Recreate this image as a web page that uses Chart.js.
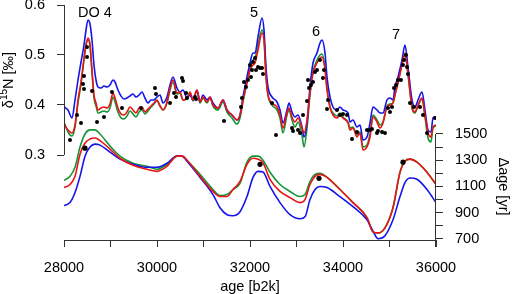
<!DOCTYPE html>
<html>
<head>
<meta charset="utf-8">
<script src="https://cdn.jsdelivr.net/npm/chart.js@4.4.0/dist/chart.umd.min.js"></script>
<style>
html,body{margin:0;padding:0;background:#fff;}
#wrap{width:521px;height:294px;}
</style>
</head>
<body>
<div id="wrap"><canvas id="c" width="521" height="294"></canvas></div>
<script>
// ---- upper panel: delta15N [permil] ----
const n15Ages = [28000,28086,28172,28237,28301,28366,28430,28473,28516,28559,28602,28645,28688,28731,28796,28860,28925,28989,29054,29097,29161,29226,29290,29355,29419,29484,29548,29613,29677,29742,29806,29871,29935,30000,30065,30129,30215,30280,30344,30430,30495,30559,30645,30710,30774,30860,30925,30989,31075,31140,31204,31312,31419,31505,31613,31720,31785,31849,31935,32000,32065,32108,32172,32258,32301,32344,32387,32473,32581,32645,32710,32796,32839,32903,32968,33032,33118,33161,33226,33290,33355,33441,33505,33548,33613,33656,33720,33785,33871,33935,34000,34108,34151,34215,34301,34366,34430,34516,34581,34645,34731,34796,34860,34946,35011,35075,35118,35183,35269,35333,35398,35484,35548,35613,35699,35763,35828,35892,35935,36000];
const n15Blue = [0.396,0.390,0.374,0.410,0.450,0.486,0.520,0.550,0.570,0.562,0.530,0.480,0.450,0.436,0.434,0.438,0.436,0.440,0.450,0.446,0.430,0.418,0.412,0.414,0.418,0.422,0.416,0.420,0.426,0.414,0.404,0.410,0.410,0.416,0.420,0.404,0.416,0.440,0.456,0.434,0.426,0.430,0.414,0.420,0.410,0.430,0.406,0.420,0.410,0.416,0.404,0.394,0.410,0.390,0.380,0.370,0.380,0.416,0.456,0.484,0.504,0.504,0.536,0.574,0.550,0.476,0.436,0.416,0.406,0.390,0.364,0.390,0.404,0.386,0.376,0.380,0.356,0.336,0.364,0.436,0.484,0.504,0.524,0.530,0.504,0.456,0.416,0.396,0.390,0.396,0.390,0.384,0.366,0.370,0.356,0.360,0.330,0.336,0.364,0.396,0.390,0.384,0.384,0.410,0.414,0.410,0.436,0.456,0.490,0.520,0.476,0.410,0.396,0.410,0.426,0.390,0.350,0.346,0.374,0.376];
const n15Red = [0.362,0.350,0.344,0.360,0.410,0.446,0.494,0.520,0.534,0.522,0.470,0.420,0.404,0.390,0.394,0.396,0.394,0.402,0.424,0.414,0.394,0.382,0.380,0.386,0.396,0.390,0.384,0.394,0.396,0.386,0.392,0.398,0.404,0.410,0.398,0.390,0.406,0.434,0.450,0.424,0.426,0.410,0.414,0.426,0.410,0.430,0.406,0.416,0.406,0.416,0.400,0.394,0.410,0.390,0.380,0.370,0.380,0.410,0.444,0.470,0.480,0.484,0.510,0.544,0.530,0.456,0.420,0.404,0.396,0.380,0.354,0.384,0.394,0.376,0.366,0.374,0.354,0.344,0.370,0.424,0.464,0.484,0.494,0.496,0.470,0.430,0.396,0.380,0.374,0.380,0.374,0.364,0.350,0.354,0.336,0.344,0.310,0.316,0.336,0.376,0.366,0.354,0.364,0.396,0.400,0.404,0.420,0.444,0.480,0.504,0.464,0.396,0.386,0.400,0.414,0.380,0.344,0.336,0.356,0.360];
const n15Green = [0.366,0.346,0.338,0.356,0.404,0.442,0.490,0.520,0.530,0.518,0.466,0.414,0.398,0.384,0.386,0.388,0.386,0.394,0.416,0.406,0.386,0.374,0.372,0.378,0.388,0.382,0.376,0.386,0.390,0.382,0.388,0.396,0.402,0.408,0.398,0.390,0.404,0.430,0.446,0.422,0.424,0.410,0.412,0.424,0.408,0.428,0.404,0.414,0.404,0.414,0.398,0.390,0.406,0.386,0.374,0.362,0.374,0.406,0.446,0.474,0.490,0.494,0.520,0.550,0.534,0.460,0.420,0.400,0.390,0.374,0.344,0.380,0.390,0.370,0.356,0.366,0.340,0.316,0.354,0.420,0.466,0.490,0.500,0.502,0.476,0.434,0.396,0.384,0.378,0.384,0.376,0.366,0.354,0.356,0.340,0.346,0.316,0.320,0.342,0.380,0.370,0.360,0.366,0.398,0.402,0.404,0.422,0.446,0.482,0.500,0.460,0.394,0.384,0.398,0.412,0.376,0.334,0.326,0.354,0.358];
const n15DotAges = [28129,28280,28366,28409,28430,28430,28495,28495,28602,28710,28860,29032,29247,29656,29957,29978,30280,30366,30409,30538,30559,30624,30645,30817,30839,31441,31806,31828,31871,31914,31957,32000,32022,32043,32065,32108,32129,32172,32215,32258,32280,32473,32559,32903,32925,33032,33075,33140,33226,33247,33269,33312,33355,33398,33441,33505,33570,33591,33656,33677,33871,33935,34000,34086,34194,34301,34516,34581,34624,34731,34753,34839,34903,34968,35011,35054,35097,35140,35183,35247,35290,35312,35355,35376,35398,35441,35527,35656,35720,35806,35978];
const n15DotVals = [0.330,0.380,0.364,0.442,0.458,0.432,0.496,0.516,0.428,0.366,0.376,0.426,0.394,0.394,0.434,0.422,0.404,0.424,0.416,0.454,0.448,0.424,0.414,0.416,0.412,0.368,0.396,0.414,0.446,0.436,0.450,0.480,0.456,0.470,0.486,0.494,0.470,0.476,0.474,0.474,0.462,0.404,0.340,0.354,0.348,0.350,0.344,0.380,0.408,0.450,0.434,0.440,0.446,0.466,0.470,0.490,0.454,0.470,0.392,0.410,0.390,0.380,0.382,0.380,0.332,0.346,0.350,0.350,0.352,0.344,0.348,0.346,0.344,0.394,0.386,0.396,0.434,0.440,0.450,0.450,0.480,0.490,0.500,0.476,0.462,0.404,0.396,0.396,0.380,0.344,0.374];

// ---- lower panel: delta age [yr] ----
const dageAges = [28000,28129,28237,28344,28452,28559,28667,28774,28989,29204,29484,29785,30000,30215,30430,30538,30645,30925,31204,31355,31505,31634,31785,31935,32065,32172,32280,32430,32645,32860,33075,33183,33290,33398,33505,33656,33935,34215,34516,34645,34753,34903,35075,35226,35333,35441,35591,35806,36000];
const dageBlue = [954,977,1054,1177,1331,1400,1423,1415,1362,1308,1269,1246,1246,1277,1331,1331,1292,1169,1038,938,885,877,908,1023,1169,1215,1210,1100,977,885,854,869,1000,1077,1100,1092,1023,946,846,760,702,725,846,1023,1130,1165,1155,1077,977];
const dageRed = [1092,1115,1177,1346,1431,1462,1469,1450,1385,1315,1262,1231,1215,1254,1331,1331,1300,1177,1062,1023,1023,1077,1138,1269,1315,1308,1280,1154,1062,1015,977,1000,1115,1177,1192,1169,1077,977,862,754,746,785,938,1208,1292,1308,1285,1208,1115];
const dageGreen = [1146,1177,1246,1400,1500,1531,1531,1500,1408,1331,1277,1254,1231,1269,1331,1331,1300,1192,1077,1031,1038,1077,1123,1285,1331,1331,1300,1208,1115,1062,1023,1038,1138,1192,1200,1169,1077,977,862,754,746,785,938,1208,1292,1308,1285,1208,1115];
const dageDotAges = [28452,32215,33484,35290];
const dageDotVals = [1392,1269,1162,1285];

// ---- ticks and labels ----
const xTicks = [28000,29000,30000,31000,32000,33000,34000,35000,36000];
const xLabelled = [28000,30000,32000,34000,36000];
const leftTicks = [0.3,0.4,0.5,0.6];
const rightTicks = [700,800,900,1000,1100,1200,1300,1400,1500];
const rightLabelled = [700,900,1100,1300,1500];
const eventLabels = ['DO 4','5','6','7'];
const eventAges = [28667,32086,33419,35140];
const eventVals = [0.585,0.584,0.546,0.540];

const BLUE = 'rgb(20,20,235)', RED = 'rgb(235,20,20)', GREEN = 'rgb(20,150,55)';
const FONT = '"Liberation Sans", Arial, Helvetica, sans-serif';
const AXC = '#333';

function pts(xs, ys){ return xs.map((x,i)=>({x:x, y:ys[i]})); }

const lineDs = (label, xs, ys, color, axis, order) => ({
  type:'line', label, data: pts(xs, ys), yAxisID: axis, borderColor: color,
  borderWidth: 1.6, pointRadius: 0, fill: false, cubicInterpolationMode: 'monotone', order
});

const decor = {
  id: 'decor',
  afterDraw(chart){
    const ctx = chart.ctx, sx = chart.scales.x, sy = chart.scales.y, sr = chart.scales.y1;
    ctx.save();
    ctx.strokeStyle = AXC; ctx.lineWidth = 1;
    // left spine (0.3 .. 0.6)
    const lx = Math.round(sx.left) + 0.5;
    ctx.beginPath();
    ctx.moveTo(lx, sy.getPixelForValue(leftTicks[0]));
    ctx.lineTo(lx, sy.getPixelForValue(leftTicks[leftTicks.length-1]));
    ctx.stroke();
    // right spine (700 .. 1500)
    const rx = Math.round(sx.right) - 0.5;
    ctx.beginPath();
    ctx.moveTo(rx, sr.getPixelForValue(rightTicks[0]) + 8);
    ctx.lineTo(rx, sr.getPixelForValue(rightTicks[rightTicks.length-1]));
    ctx.stroke();
    // event labels
    ctx.fillStyle = '#000';
    ctx.font = '14.5px ' + FONT;
    ctx.textAlign = 'center'; ctx.textBaseline = 'middle';
    eventLabels.forEach((t,i)=>{
      ctx.fillText(t, sx.getPixelForValue(eventAges[i]), sy.getPixelForValue(eventVals[i]));
    });
    // x title
    ctx.fillText('age [b2k]', (sx.left + sx.right)/2, 287);
    // left title (rotated)
    const lyc = (sy.getPixelForValue(0.3) + sy.getPixelForValue(0.6))/2;
    ctx.save();
    ctx.translate(9, lyc);
    ctx.rotate(-Math.PI/2);
    ctx.textAlign = 'left';
    ctx.font = '14.5px ' + FONT;
    const w1 = ctx.measureText('δ').width;
    ctx.font = '10px ' + FONT;
    const w2 = ctx.measureText('15').width;
    ctx.font = '14.5px ' + FONT;
    const w3 = ctx.measureText('N [‰]').width;
    let x0 = -(w1 + w2 + w3)/2;
    ctx.fillText('δ', x0, 0);
    ctx.font = '10px ' + FONT;
    ctx.fillText('15', x0 + w1, -5);
    ctx.font = '14.5px ' + FONT;
    ctx.fillText('N [‰]', x0 + w1 + w2, 0);
    ctx.restore();
    // right title (rotated clockwise)
    const ryc = (sr.getPixelForValue(700) + sr.getPixelForValue(1500))/2;
    ctx.save();
    ctx.translate(503, ryc);
    ctx.rotate(Math.PI/2);
    ctx.textAlign = 'center';
    ctx.fillText('Δage [yr]', 0, 0);
    ctx.restore();
    ctx.restore();
  }
};

new Chart(document.getElementById('c'), {
  data: {
    datasets: [
      {type:'scatter', label:'d15N data', data: pts(n15DotAges, n15DotVals), yAxisID:'y',
       backgroundColor:'#000', borderColor:'#000', pointRadius:2, pointBorderWidth:0, order:0},
      {type:'scatter', label:'dage data', data: pts(dageDotAges, dageDotVals), yAxisID:'y1',
       backgroundColor:'#000', borderColor:'#000', pointRadius:2.6, pointBorderWidth:0, order:0},
      lineDs('red', n15Ages, n15Red, RED, 'y', 1),
      lineDs('blue', n15Ages, n15Blue, BLUE, 'y', 2),
      lineDs('green', n15Ages, n15Green, GREEN, 'y', 3),
      lineDs('red dage', dageAges, dageRed, RED, 'y1', 1),
      lineDs('blue dage', dageAges, dageBlue, BLUE, 'y1', 2),
      lineDs('green dage', dageAges, dageGreen, GREEN, 'y1', 3)
    ]
  },
  options: {
    responsive: false,
    animation: false,
    devicePixelRatio: 1,
    layout: { padding: { top: 5, left: 0, right: 0, bottom: 0 } },
    plugins: { legend: { display: false }, tooltip: { enabled: false } },
    scales: {
      x: {
        type: 'linear', position: 'bottom', min: 28000, max: 36000,
        afterBuildTicks: s => { s.ticks = xTicks.map(v => ({value: v})); },
        afterFit: s => { s.height = 54; s.paddingLeft = 0; s.paddingRight = 0; },
        ticks: { autoSkip: false, maxRotation: 0, color: '#000', padding: 12,
                 font: { family: FONT, size: 14.5 },
                 callback: v => xLabelled.includes(v) ? String(v) : '' },
        grid: { drawOnChartArea: false, drawTicks: true, tickLength: 7, color: AXC, lineWidth: 1 },
        border: { display: true, color: AXC, width: 1 }
      },
      y: {
        type: 'linear', position: 'left', min: 0.13, max: 0.6,
        afterBuildTicks: s => { s.ticks = leftTicks.map(v => ({value: v})); },
        afterFit: s => { s.width = 64; s.paddingTop = 0; s.paddingBottom = 0; },
        ticks: { autoSkip: false, color: '#000', padding: 12,
                 font: { family: FONT, size: 14.5 },
                 callback: v => v.toFixed(1) },
        grid: { drawOnChartArea: false, drawTicks: true, tickLength: 7, color: AXC, lineWidth: 1 },
        border: { display: false }
      },
      y1: {
        type: 'linear', position: 'right', min: 692, max: 2483,
        afterBuildTicks: s => { s.ticks = rightTicks.map(v => ({value: v})); },
        afterFit: s => { s.width = 85; s.paddingTop = 0; s.paddingBottom = 0; },
        ticks: { autoSkip: false, color: '#000', padding: 12,
                 font: { family: FONT, size: 14.5 },
                 callback: v => rightLabelled.includes(v) ? String(v) : '' },
        grid: { drawOnChartArea: false, drawTicks: true, tickLength: 7, color: AXC, lineWidth: 1 },
        border: { display: false }
      }
    }
  },
  plugins: [decor]
});
</script>
</body>
</html>
